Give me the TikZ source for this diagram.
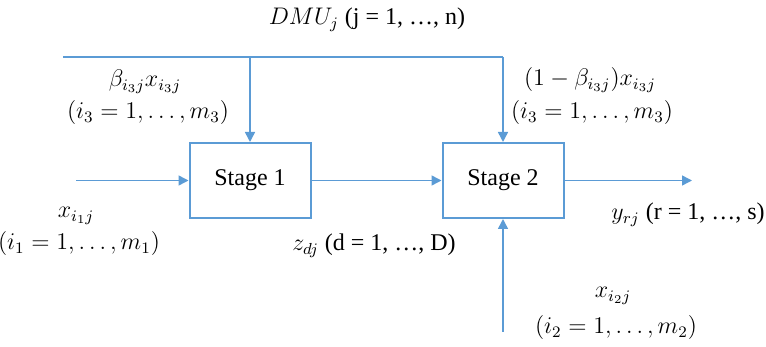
\documentclass[tikz,border=0pt]{standalone}
\usepackage{fontspec}
\setmainfont{Liberation Serif}
\usetikzlibrary{arrows.meta}
\definecolor{lineblue}{RGB}{91,155,213}
\begin{document}
\begin{tikzpicture}[x=0.5pt,y=-0.5pt,
  stagebox/.style={draw=lineblue,line width=1pt,minimum width=60.5pt,minimum height=37.5pt,inner sep=0pt,font=\fontsize{12}{14}\selectfont},
  conn/.style={draw=lineblue,line width=0.75pt,-{Triangle[length=5pt,width=5pt]}},
  plain/.style={draw=lineblue,line width=0.75pt},
  lbl/.style={inner sep=0pt,font=\fontsize{12}{14}\selectfont},
  mlbl/.style={inner sep=0pt,font=\fontsize{11.5}{14}\selectfont}]
\useasboundingbox (0,0) rectangle (766,347);
\node[stagebox] (s1) at (250,180.5) {Stage 1};
\node[stagebox] (s2) at (503,180.5) {Stage 2};
\coordinate (tl) at (63,57);
\coordinate (tm) at (250,57);
\coordinate (tr) at (503,57);
\coordinate (in1) at (76,180.5);
\coordinate (out) at (692,180.5);
\coordinate (bot) at (503,332);
\draw[plain] (tl) -- (tr);
\draw[conn] (tm) -- (s1.north);
\draw[conn] (tr) -- (s2.north);
\draw[conn] (in1) -- (s1.west);
\draw[conn] (s1.east) -- (s2.west);
\draw[conn] (s2.east) -- (out);
\draw[conn] (bot) -- (s2.south);
\node[lbl] (title) at (367,20) {$DMU_j$ (j = 1, \ldots, n)};
\node[mlbl] (b1) at (145,82) {$\beta_{i_3j}x_{i_3j}$};
\node[mlbl] (b2) at (148,113) {$(i_3 = 1, \ldots, m_3)$};
\node[mlbl] (c1) at (590,80) {$(1-\beta_{i_3j})x_{i_3j}$};
\node[mlbl] (c2) at (592,113) {$(i_3 = 1, \ldots, m_3)$};
\node[mlbl] (d1) at (76,216) {$x_{i_1j}$};
\node[mlbl] (d2) at (79,244) {$(i_1 = 1, \ldots, m_1)$};
\node[lbl] (z) at (374,246) {$z_{dj}$ (d = 1, \ldots, D)};
\node[lbl] (y) at (688,215) {$y_{rj}$ (r = 1, \ldots, s)};
\node[mlbl] (e1) at (613,296) {$x_{i_2j}$};
\node[mlbl] (e2) at (616,328) {$(i_2 = 1, \ldots, m_2)$};
\end{tikzpicture}
\end{document}
